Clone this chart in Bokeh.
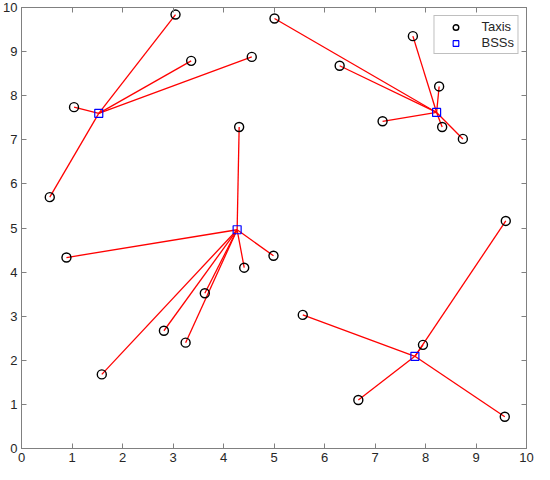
from bokeh.plotting import figure
from bokeh.models import Range1d, LinearAxis, FixedTicker, Legend, LegendItem, ColumnDataSource
from bokeh.embed import file_html
from bokeh.resources import INLINE

# Base stations (BSSs)
bss_x = [1.53, 4.27, 8.22, 7.79]
bss_y = [7.60, 4.96, 7.62, 2.09]

# Taxis and the BSS each is attached to
taxi_x = [3.05, 3.36, 4.56, 1.04, 0.56,
          4.31, 0.89, 1.59, 2.82, 3.25, 3.63, 4.41, 4.99,
          5.01, 6.30, 7.75, 8.27, 8.33, 8.74, 7.15,
          5.57, 7.95, 6.67, 9.57, 9.59]
taxi_y = [9.84, 8.79, 8.88, 7.74, 5.70,
          7.29, 4.33, 1.68, 2.67, 2.40, 3.52, 4.10, 4.37,
          9.75, 8.68, 9.35, 8.21, 7.29, 7.02, 7.42,
          3.03, 2.35, 1.10, 0.72, 5.16]
taxi_bss = [0, 0, 0, 0, 0,
            1, 1, 1, 1, 1, 1, 1, 1,
            2, 2, 2, 2, 2, 2, 2,
            3, 3, 3, 3, 3]

ticks = [0, 1, 2, 3, 4, 5, 6, 7, 8, 9, 10]

FONT = "Liberation Sans"
AXIS_COLOR = "#808080"
LABEL_COLOR = "#262626"

p = figure(width=534, height=464, output_backend="svg", toolbar_location=None,
           x_range=Range1d(0, 10), y_range=Range1d(0, 10),
           min_border_left=0, min_border_right=8, min_border_top=7, min_border_bottom=0,
           x_axis_location=None, y_axis_location=None)
p.grid.visible = False
p.outline_line_color = AXIS_COLOR
p.outline_line_width = 1
p.background_fill_color = "white"

def make_axis(show_labels):
    ax = LinearAxis(ticker=FixedTicker(ticks=ticks))
    ax.axis_line_color = AXIS_COLOR
    ax.major_tick_line_color = AXIS_COLOR
    ax.major_tick_in = 5
    ax.major_tick_out = 0
    ax.minor_tick_line_color = None
    if show_labels:
        ax.major_label_text_font = FONT
        ax.major_label_text_font_size = "13px"
        ax.major_label_text_color = LABEL_COLOR
        ax.major_label_standoff = 4
    else:
        ax.major_label_text_font_size = "1px"
        ax.major_label_text_color = None
        ax.major_label_standoff = 0
    return ax

p.add_layout(make_axis(True), "below")
p.add_layout(make_axis(True), "left")
p.add_layout(make_axis(False), "above")
p.add_layout(make_axis(False), "right")

seg_src = ColumnDataSource(dict(
    x0=taxi_x, y0=taxi_y,
    x1=[bss_x[i] for i in taxi_bss], y1=[bss_y[i] for i in taxi_bss]))
p.segment(x0="x0", y0="y0", x1="x1", y1="y1", source=seg_src,
          line_color="#ff0000", line_width=1.3)

taxis = p.scatter(taxi_x, taxi_y, marker="circle", size=9, fill_color=None,
                  line_color="black", line_width=1.4)
bss = p.scatter(bss_x, bss_y, marker="square", size=8, fill_color=None,
                line_color="#0000ff", line_width=1.2)

legend = Legend(items=[LegendItem(label="Taxis", renderers=[taxis]),
                       LegendItem(label="BSSs", renderers=[bss])],
                location="top_right")
legend.margin = 8
legend.padding = 3
legend.spacing = 1
legend.label_text_font = FONT
legend.label_text_font_size = "13px"
legend.label_text_color = LABEL_COLOR
legend.label_height = 14
legend.glyph_height = 14
legend.glyph_width = 36
legend.label_standoff = 8
legend.border_line_color = AXIS_COLOR
legend.border_line_width = 1
legend.background_fill_alpha = 1
p.add_layout(legend, "center")

open("out.html", "w").write(file_html(p, INLINE))
